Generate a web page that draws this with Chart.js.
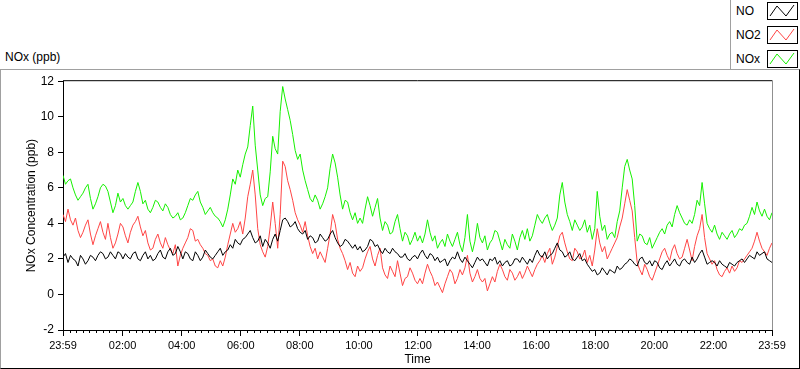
<!DOCTYPE html>
<html>
<head>
<meta charset="utf-8">
<script src="https://cdn.jsdelivr.net/npm/chart.js@4"></script>
<style>
  body { margin: 0; background: #fff; font-family: "Liberation Sans", Arial, sans-serif; color: #000; }
  #page { position: relative; width: 800px; height: 369px; overflow: hidden; background: #fff; }
  #frame { position: absolute; left: 0; top: 69px; width: 800px; height: 300px; box-sizing: border-box;
           border-top: 1px solid #a0a0a0; border-left: 1px solid #a0a0a0;
           border-right: 1px solid #000; border-bottom: 1px solid #000; }
  #legendBox { position: absolute; left: 730px; top: 0; width: 70px; height: 69px; border-left: 1px solid #a0a0a0; box-sizing: border-box; }
  .leg { position: absolute; left: 5px; font-size: 12px; line-height: 14px; }
  .sw { position: absolute; left: 36px; width: 31px; height: 18px; }
  #plotTitle { position: absolute; left: 5px; top: 50px; font-size: 12px; }
  #wrap { position: absolute; left: 1px; top: 70px; width: 798px; height: 297px; }
</style>
</head>
<body>
<div id="page">
  <div id="frame"></div>
  <div id="legendBox"></div>
  <div id="plotTitle">NOx (ppb)</div>
  <div id="wrap"><canvas id="nox-chart"></canvas></div>
</div>
<script>
// readings about every 5 minutes, 23:59 to 23:59 (ppb)
const no = [
  2.1,2.3,1.8,2.2,2.0,1.9,1.6,2.2,2.0,1.7,1.9,2.2,2.1,1.9,2.2,2.4,2.3,2.0,2.1,2.4,2.2,2.0,2.4,2.3,2.0,2.3,2.1,2.0,2.3,2.4,2.0,1.9,2.2,2.4,2.0,2.2,1.9,2.0,2.3,2.5,2.1,2.0,2.4,2.6,2.2,2.3,2.7,2.4,
  2.0,2.4,2.3,2.0,1.9,2.4,2.2,1.9,2.1,2.5,2.3,2.1,2.0,2.2,2.4,2.6,2.2,2.4,2.5,2.8,2.6,3.1,2.9,2.8,3.1,3.2,3.4,3.6,3.2,2.9,3.0,3.3,2.7,3.1,2.9,2.6,3.1,3.4,3.0,3.6,4.2,4.3,4.1,3.8,3.9,4.1,3.7,3.5,
  3.4,3.6,3.1,3.3,3.2,2.9,3.0,3.4,3.2,3.0,3.1,3.4,3.6,3.2,2.9,2.7,2.8,3.1,3.0,2.8,2.6,2.8,2.5,2.7,2.4,2.5,2.7,3.1,3.0,2.7,2.8,2.5,2.3,2.6,2.4,2.3,2.6,2.4,2.3,2.1,2.1,2.3,2.0,1.9,2.1,2.2,2.0,2.3,
  2.5,2.2,2.0,2.3,2.2,1.9,2.1,1.8,1.9,2.0,1.6,1.9,2.1,2.0,2.4,2.0,1.8,2.1,1.9,1.7,1.5,1.8,2.1,1.9,2.0,1.8,1.6,2.0,1.9,2.1,1.7,1.9,1.6,1.8,1.9,1.6,1.7,2.0,2.0,1.8,2.1,1.9,1.7,2.0,1.8,2.2,2.5,2.2,
  2.1,2.4,2.0,2.2,2.3,2.6,2.9,2.5,2.4,2.1,2.2,2.4,2.0,1.9,2.1,2.3,1.9,2.0,1.7,1.5,1.3,1.4,1.1,1.2,1.5,1.3,1.1,1.4,1.3,1.2,1.6,1.4,1.5,1.7,1.8,2.0,1.9,1.7,1.6,2.0,2.1,1.8,1.7,1.9,1.6,1.9,1.8,1.5,
  1.4,1.7,1.9,1.6,1.8,2.0,1.7,1.6,1.9,2.0,1.8,1.7,2.1,1.8,2.0,2.3,2.5,2.1,1.7,1.8,1.9,1.8,1.6,1.9,1.7,1.6,1.5,1.8,1.7,1.6,1.8,1.9,2.0,1.8,2.0,2.2,2.1,2.0,2.4,2.2,2.3,2.4,2.0,1.9,1.8
];
const no2 = [
  4.5,4.1,4.8,4.2,3.9,4.3,3.6,3.2,3.5,3.9,4.2,3.4,2.8,3.3,3.7,4.1,3.5,3.1,4.0,3.2,2.6,2.9,3.4,4.0,3.8,3.3,2.9,3.5,3.9,4.1,4.4,3.8,3.3,3.6,2.9,2.5,2.6,3.1,3.4,2.9,2.6,3.2,2.8,2.5,2.3,2.8,1.6,2.2,
  2.6,2.9,3.2,3.7,3.6,3.0,3.1,2.8,2.6,2.3,2.2,1.9,2.0,1.6,1.5,1.9,1.6,2.1,2.8,3.4,4.0,3.5,3.7,4.1,3.4,4.3,5.5,6.2,7.0,5.6,3.7,2.8,2.4,2.1,2.7,3.8,5.2,4.0,2.6,4.5,7.5,7.2,6.4,5.9,5.3,4.6,4.2,3.9,
  3.5,4.1,3.3,2.7,2.3,2.6,2.0,2.4,2.1,1.8,2.6,3.4,4.5,4.0,3.1,2.6,2.3,1.9,1.4,1.8,1.2,1.0,1.6,1.3,1.5,2.0,2.4,2.7,2.0,1.6,2.2,2.6,1.5,1.1,0.9,1.6,1.3,1.0,1.9,1.2,0.5,0.9,1.0,1.5,1.2,0.8,0.6,0.9,
  0.6,1.2,1.7,1.3,1.0,0.5,0.7,0.4,0.1,0.6,1.0,1.4,1.2,0.6,0.9,1.4,1.1,1.5,2.2,1.2,0.7,1.0,1.4,0.9,0.7,0.9,0.2,0.6,1.0,0.7,1.3,1.7,1.4,1.0,0.8,1.4,1.2,0.8,1.0,1.3,0.9,1.2,1.6,1.3,1.0,1.4,1.7,1.9,
  2.2,1.8,2.3,2.6,1.7,2.1,2.7,3.3,3.5,2.9,2.4,2.0,1.9,2.6,2.4,2.0,2.1,2.5,1.8,2.2,1.6,2.5,3.7,2.9,2.4,2.7,2.0,2.3,2.6,2.9,3.2,3.8,4.3,5.1,5.9,5.3,4.7,3.2,1.8,1.4,1.1,1.7,1.4,1.0,0.8,1.2,1.6,2.0,
  2.4,2.6,2.2,1.9,2.5,2.8,2.3,2.0,2.1,2.6,3.1,2.5,1.9,2.7,3.3,3.7,4.5,3.2,2.3,2.0,1.7,1.9,1.4,1.1,1.0,1.3,1.5,1.2,1.6,1.3,1.5,1.9,1.8,2.0,2.2,2.4,2.6,3.0,3.5,3.0,2.6,2.4,2.2,2.6,2.9
];
const nox = [
  6.7,6.2,6.4,6.5,6.0,5.6,5.3,5.5,5.7,6.0,6.2,5.4,4.8,5.1,5.5,6.0,6.2,6.1,5.8,5.2,4.6,5.0,5.7,5.2,5.4,5.0,4.8,5.0,5.2,5.8,6.3,5.8,5.1,5.3,4.8,4.6,4.9,5.3,5.2,4.9,4.7,5.1,4.9,4.5,4.3,4.4,4.6,4.2,
  4.3,4.6,5.0,5.4,5.3,5.6,5.8,5.2,4.9,4.5,4.7,4.9,4.6,4.4,4.3,4.1,3.8,4.2,4.8,5.6,6.5,6.2,7.0,6.6,7.3,7.9,8.3,9.5,10.6,8.4,7.0,5.6,5.0,5.4,5.5,6.9,8.9,8.2,7.9,10.3,11.7,11.0,10.4,9.8,9.0,8.1,7.6,7.9,
  7.0,6.4,5.9,5.4,5.2,5.6,5.3,4.8,5.1,5.5,6.0,7.1,7.9,7.4,6.6,5.6,4.8,5.3,5.2,4.6,4.2,4.6,4.0,4.3,4.0,4.8,5.5,5.0,4.4,4.9,5.4,4.3,3.6,4.1,3.9,3.4,3.5,4.1,4.5,3.7,3.0,3.5,3.3,2.8,3.1,3.5,3.0,3.3,
  2.9,3.4,4.2,3.5,3.0,3.3,2.6,2.9,3.1,2.7,3.4,3.0,2.7,3.1,3.5,2.8,2.4,3.2,4.5,3.0,2.4,3.0,4.0,3.2,2.9,3.3,2.5,2.9,3.1,3.6,3.5,3.0,2.5,3.1,2.8,2.6,3.4,3.0,2.5,3.2,3.6,3.1,3.7,3.0,3.3,3.9,4.5,4.2,
  4.0,4.3,4.5,4.0,3.6,3.9,4.3,5.6,6.3,5.2,4.5,4.1,3.6,4.2,3.9,3.6,3.8,4.2,3.5,3.9,3.1,3.7,5.8,4.4,3.6,3.9,3.1,3.4,3.5,3.2,4.1,4.7,6.0,7.2,7.6,7.0,6.5,5.0,3.0,3.4,3.3,2.9,2.8,3.2,2.6,2.9,3.2,3.5,
  3.7,3.4,3.9,4.1,3.8,4.5,5.0,4.6,4.3,4.0,3.9,4.2,4.0,4.5,5.3,5.0,6.3,5.1,4.0,3.7,3.5,3.9,3.4,3.1,3.5,3.3,3.1,3.4,3.6,3.2,3.4,3.7,3.6,3.9,4.0,4.4,4.9,4.5,5.2,4.7,4.4,4.8,4.4,4.2,4.6
];
const seriesNames = ["NO", "NO2", "NOx"];
const seriesColors = ["#000000", "#ff4545", "#16f000"];
// minutes after the 23:59 start
const timeTicks = [0, 121, 241, 361, 481, 601, 721, 841, 961, 1081, 1201, 1321, 1440];
const yTicks = [-2, 0, 2, 4, 6, 8, 10, 12];

const startMinute = 23 * 60 + 59;
const sampleMinutes = no.map((v, i) => i * 1440 / (no.length - 1));

function clockLabel(v) {
  const m = Math.round(startMinute + v) % 1440;
  const hh = String(Math.floor(m / 60)).padStart(2, '0');
  const mm = String(m % 60).padStart(2, '0');
  return hh + ':' + mm;
}

// legend (HTML, top right)
const legendBox = document.getElementById('legendBox');
seriesNames.forEach((name, i) => {
  const top = 2 + i * 24;
  const t = document.createElement('div');
  t.className = 'leg';
  t.style.top = (top + 2) + 'px';
  t.textContent = name;
  legendBox.appendChild(t);
  const sw = document.createElementNS('http://www.w3.org/2000/svg', 'svg');
  sw.setAttribute('class', 'sw');
  sw.setAttribute('width', '31');
  sw.setAttribute('height', '18');
  sw.style.top = top + 'px';
  sw.innerHTML = '<rect x="0.5" y="0.5" width="30" height="17" fill="#fff" stroke="#000"/>' +
    '<polyline points="3,14 10,4 19,14 27,3" fill="none" stroke="' + seriesColors[i] + '" stroke-width="1"/>';
  legendBox.appendChild(sw);
});

const frameExtras = {
  id: 'frameExtras',
  afterDraw(chart) {
    const {ctx, chartArea, scales} = chart;
    const x = scales.x;
    ctx.save();
    ctx.strokeStyle = '#000';
    ctx.lineWidth = 1;
    ctx.beginPath();
    // minor time ticks
    for (let i = 0; i < timeTicks.length - 1; i++) {
      const a = timeTicks[i], b = timeTicks[i + 1];
      for (let k = 1; k < 9; k++) {
        const px = Math.round(x.getPixelForValue(a + (b - a) * k / 9)) + 0.5;
        ctx.moveTo(px, chartArea.bottom);
        ctx.lineTo(px, chartArea.bottom + 3);
      }
    }
    ctx.moveTo(chartArea.left, chartArea.top - 0.5);
    ctx.lineTo(chartArea.right, chartArea.top - 0.5);
    ctx.stroke();
    ctx.strokeStyle = '#909090';
    ctx.beginPath();
    ctx.moveTo(chartArea.right + 0.5, chartArea.top - 1);
    ctx.lineTo(chartArea.right + 0.5, chartArea.bottom);
    ctx.stroke();
    ctx.restore();
  }
};

const ctx = document.getElementById('nox-chart');
const chart = new Chart(ctx, {
  type: 'line',
  data: {
    labels: sampleMinutes,
    datasets: [no, no2, nox].map((vals, i) => ({
      label: seriesNames[i],
      data: vals,
      borderColor: seriesColors[i],
      borderWidth: 1,
      pointRadius: 0,
      tension: 0,
      fill: false
    }))
  },
  options: {
    responsive: true,
    maintainAspectRatio: false,
    animation: false,
    events: [],
    layout: { padding: { left: 0, top: 9, right: 27, bottom: 0 } },
    plugins: { legend: { display: false }, tooltip: { enabled: false } },
    scales: {
      x: {
        type: 'linear',
        min: 0,
        max: 1440,
        afterBuildTicks: (scale) => { scale.ticks = timeTicks.map(v => ({ value: v })); },
        afterFit: (scale) => { scale.height = 37; },
        ticks: {
          autoSkip: false,
          maxRotation: 0,
          padding: 3,
          color: '#000',
          font: { family: '"Liberation Sans", Arial, sans-serif', size: 11 },
          callback: (v) => clockLabel(v)
        },
        grid: { drawOnChartArea: false, drawTicks: true, tickLength: 6, color: '#000', lineWidth: 1 },
        border: { display: true, color: '#000', width: 1 },
        title: { display: true, text: 'Time', color: '#000', padding: { top: 0, bottom: 0 },
                 font: { family: '"Liberation Sans", Arial, sans-serif', size: 12 } }
      },
      y: {
        min: -2,
        max: 12,
        afterBuildTicks: (scale) => { scale.ticks = yTicks.map(v => ({ value: v })); },
        afterFit: (scale) => { scale.width = 62; },
        ticks: {
          padding: 4,
          color: '#000',
          font: { family: '"Liberation Sans", Arial, sans-serif', size: 12 }
        },
        grid: { drawOnChartArea: false, drawTicks: true, tickLength: 5, color: '#000', lineWidth: 1 },
        border: { display: true, color: '#000', width: 1 },
        title: { display: true, text: 'NOx Concentration (ppb)', color: '#000', padding: { top: 23, bottom: 0 },
                 font: { family: '"Liberation Sans", Arial, sans-serif', size: 12 } }
      }
    }
  },
  plugins: [frameExtras]
});
</script>
</body>
</html>
